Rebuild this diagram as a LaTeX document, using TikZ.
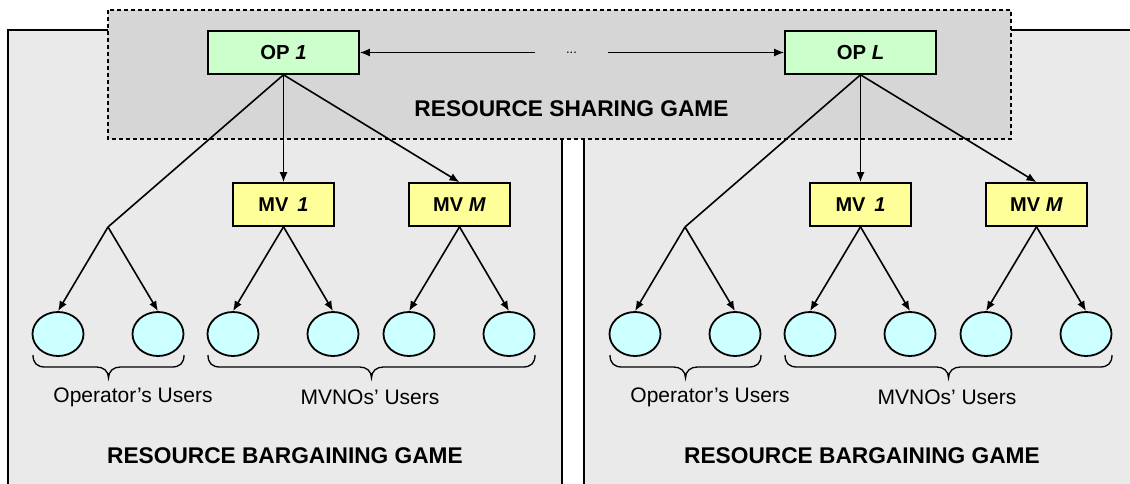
\documentclass[tikz,border=0pt]{standalone}
\usepackage{fontspec}
\setmainfont{Liberation Sans}
\usetikzlibrary{arrows.meta,shapes.geometric}
\definecolor{panelgray}{HTML}{EAEAEA}
\definecolor{sharegray}{HTML}{D6D6D6}
\definecolor{opgreen}{HTML}{CCFFCC}
\definecolor{mvyellow}{HTML}{FFFF99}
\definecolor{usercyan}{HTML}{CCFFFF}
\newcommand\userbrace[3]{\draw[bracepath] (#1,355) .. controls (#1,363) and ({#1+4},367) .. ({#1+12},367) -- ({#3-12},367) .. controls ({#3-5},367) and (#3,371) .. (#3,378) .. controls (#3,371) and ({#3+5},367) .. ({#3+12},367) -- ({#2-12},367) .. controls ({#2-4},367) and (#2,363) .. (#2,355);}
\begin{document}
\begin{tikzpicture}[x=1pt,y=-1pt,
  conn/.style={line width=1.6pt,-{Latex[length=10pt,width=8pt]}},
  wire/.style={line width=1.6pt},
  opbox/.style={draw,line width=1.6pt,fill=opgreen,minimum width=151pt,minimum height=43pt,inner sep=0pt,font=\fontsize{20.3}{23}\selectfont\bfseries},
  mvbox/.style={draw,line width=1.6pt,fill=mvyellow,minimum width=101pt,minimum height=43pt,inner sep=0pt,font=\fontsize{20}{23}\selectfont\bfseries},
  user/.style={ellipse,draw,line width=1.8pt,fill=usercyan,minimum width=51pt,minimum height=44pt,inner sep=0pt},
  gametitle/.style={font=\fontsize{22.7}{26}\selectfont\bfseries},
  grouplabel/.style={font=\fontsize{21}{24}\selectfont},
  bracepath/.style={line width=1.3pt}
]
\useasboundingbox (0,0) rectangle (1130,484);
% panels
\fill[panelgray] (8,30) rectangle (562,484);
\draw[line width=1.7pt] (8,484) -- (8,30) -- (562,30) -- (562,484);
\fill[panelgray] (584,30) rectangle (1130,484);
\draw[line width=1.7pt] (584,484) -- (584,30) -- (1130,30);
% sharing game box
\draw[dash pattern=on 4pt off 3pt, line width=1.5pt, fill=sharegray] (108,10) rectangle (1011,139);
\node[gametitle] (share) at (571.5,109) {RESOURCE SHARING GAME};
\node[opbox] (opA) at (283.5,52.5) {OP \textit{1}};
\node[opbox] (opB) at (860.5,52.5) {OP \textit{L}};
\node[inner sep=0pt, minimum width=73pt, minimum height=4pt, font=\fontsize{13}{14}\selectfont] (dots) at (571.5,52.5) {...};
\draw[conn] (dots) -- (opA);
\draw[conn] (dots) -- (opB);
% bargaining panels
\foreach \p/\dx in {A/0,B/577}{
\begin{scope}[xshift=\dx]
  \node[mvbox] (mv1\p) at (283.5,204.5) {MV\ \,\textit{1}};
  \node[mvbox] (mvM\p) at (459.5,204.5) {MV\ \textit{M}};
  \coordinate (br\p) at (108,227);
  \node[user] (u1\p) at (58,334) {};
  \node[user] (u2\p) at (158,334) {};
  \node[user] (u3\p) at (233,334) {};
  \node[user] (u4\p) at (333,334) {};
  \node[user] (u5\p) at (409,334) {};
  \node[user] (u6\p) at (509,334) {};
  \draw[wire] (op\p.south) -- (br\p);
  \draw[conn] (op\p.south) -- (mv1\p.north);
  \draw[conn] (op\p.south) -- (mvM\p.north);
  \draw[conn] (br\p) -- (u1\p.north);
  \draw[conn] (br\p) -- (u2\p.north);
  \draw[conn] (mv1\p.south) -- (u3\p.north);
  \draw[conn] (mv1\p.south) -- (u4\p.north);
  \draw[conn] (mvM\p.south) -- (u5\p.north);
  \draw[conn] (mvM\p.south) -- (u6\p.north);
  \userbrace{33}{184}{108.5}
  \userbrace{208}{535}{371.5}
  \node[grouplabel] (opusers\p) at (133,397) {Operator’s Users};
  \node[grouplabel] (mvusers\p) at (370,397) {MVNOs’ Users};
  \node[gametitle] (bargain\p) at (285,455.5) {RESOURCE BARGAINING GAME};
\end{scope}
}
\end{tikzpicture}
\end{document}
